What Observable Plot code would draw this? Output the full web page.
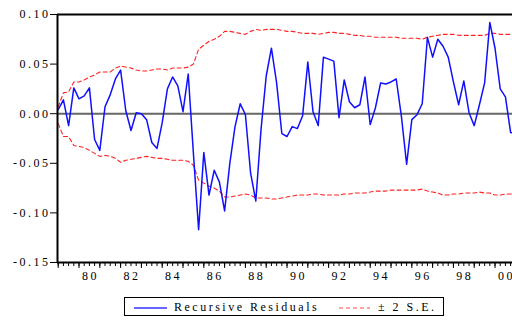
<!DOCTYPE html>
<html>
<head>
<meta charset="utf-8">
<script src="https://cdn.jsdelivr.net/npm/d3@7"></script>
<script src="https://cdn.jsdelivr.net/npm/@observablehq/plot@0.6"></script>
<style>
  html, body { margin: 0; padding: 0; background: #fff; }
  #wrap { position: relative; width: 512px; height: 320px; overflow: hidden; }
  #legend { position: absolute; left: 124px; top: 297px; width: 318px; height: 17px;
    border: 1px solid #000; font-family: "Liberation Serif", "Times New Roman", "DejaVu Serif", serif; font-size: 12px; letter-spacing: 2.5px; color: #000; }
  #legend .s { position: absolute; top: 0; }
  #legend .t { position: absolute; top: 1px; line-height: 16px; white-space: nowrap; }
  svg text { font-family: "Liberation Serif", "Times New Roman", "DejaVu Serif", serif !important; }
</style>
</head>
<body>
<div id="wrap">
  <div id="chart"></div>
  <div id="legend">
    <svg class="s" style="left:9px" width="34" height="17"><line x1="0" x2="33" y1="10" y2="10" stroke="#3333ff" stroke-width="1.5"/></svg>
    <span class="t" style="left:49px">Recursive Residuals</span>
    <svg class="s" style="left:214px" width="32" height="17"><line x1="0" x2="31" y1="10" y2="10" stroke="#ff4444" stroke-width="1.2" stroke-dasharray="4,3"/></svg>
    <span class="t" style="left:253px">± 2 S.E.</span>
  </div>
</div>
<script>
const startYear = 1979; // first quarterly observation: 1979Q1

const resid = [
  0.004, 0.014, -0.012, 0.026, 0.015, 0.018, 0.026, -0.026, -0.037, 0.007,
  0.019, 0.035, 0.044, 0.003, -0.017, 0.001, 0.000, -0.006, -0.029, -0.035,
  -0.009, 0.025, 0.037, 0.028, 0.002, 0.040, -0.040, -0.117, -0.039, -0.082,
  -0.057, -0.069, -0.098, -0.050, -0.013, 0.010, -0.001, -0.060, -0.088, -0.016,
  0.038, 0.066, 0.031, -0.020, -0.023, -0.013, -0.015, -0.002, 0.052, 0.002,
  -0.012, 0.057, 0.055, 0.053, -0.004, 0.034, 0.012, 0.006, 0.009, 0.037,
  -0.011, 0.006, 0.031, 0.030, 0.032, 0.035, -0.003, -0.051, -0.006, -0.001,
  0.010, 0.077, 0.057, 0.075, 0.068, 0.057, 0.032, 0.009, 0.033, 0.001,
  -0.012, 0.009, 0.031, 0.092, 0.066, 0.025, 0.017, -0.019, -0.020
];

const upper = [
  0.007, 0.021, 0.022, 0.032, 0.032, 0.034, 0.037, 0.039, 0.042, 0.042,
  0.042, 0.046, 0.048, 0.047, 0.046, 0.044, 0.043, 0.043, 0.044, 0.045,
  0.045, 0.044, 0.046, 0.046, 0.046, 0.047, 0.050, 0.065, 0.069, 0.073,
  0.075, 0.078, 0.083, 0.083, 0.082, 0.081, 0.080, 0.083, 0.085, 0.084,
  0.085, 0.085, 0.085, 0.084, 0.083, 0.083, 0.082, 0.081, 0.081, 0.081,
  0.080, 0.081, 0.082, 0.082, 0.081, 0.081, 0.080, 0.079, 0.079, 0.078,
  0.078, 0.077, 0.077, 0.077, 0.077, 0.077, 0.076, 0.076, 0.076, 0.076,
  0.075, 0.077, 0.078, 0.079, 0.080, 0.080, 0.080, 0.079, 0.079, 0.079,
  0.079, 0.079, 0.079, 0.081, 0.081, 0.080, 0.080, 0.080, 0.080
];

const lower = [
  -0.010, -0.023, -0.023, -0.032, -0.033, -0.034, -0.037, -0.040, -0.043, -0.042,
  -0.043, -0.045, -0.049, -0.047, -0.046, -0.045, -0.044, -0.043, -0.044, -0.045,
  -0.045, -0.046, -0.047, -0.047, -0.047, -0.048, -0.052, -0.067, -0.070, -0.073,
  -0.075, -0.078, -0.084, -0.084, -0.083, -0.082, -0.081, -0.082, -0.085, -0.085,
  -0.085, -0.086, -0.086, -0.085, -0.084, -0.083, -0.082, -0.082, -0.082, -0.081,
  -0.081, -0.082, -0.082, -0.082, -0.082, -0.081, -0.081, -0.080, -0.080, -0.080,
  -0.079, -0.078, -0.078, -0.078, -0.077, -0.077, -0.077, -0.077, -0.077, -0.077,
  -0.076, -0.078, -0.079, -0.080, -0.082, -0.082, -0.081, -0.081, -0.080, -0.080,
  -0.080, -0.079, -0.080, -0.080, -0.082, -0.082, -0.081, -0.081, -0.081
];

const yTicks = [0.10, 0.05, 0.00, -0.05, -0.10, -0.15];
const yearLabels = ["80", "82", "84", "86", "88", "90", "92", "94", "96", "98", "00"];
const labelYears = [1980, 1982, 1984, 1986, 1988, 1990, 1992, 1994, 1996, 1998, 2000];

const t = i => startYear + i / 4;
const xDomain = [1978.966, 2000.84];
const quarterTicks = d3.range(Math.ceil((xDomain[1] - 1978.75) * 4)).map(i => 1978.75 + i / 4).filter(v => v >= xDomain[0] && v <= xDomain[1]);
const yearTicks = quarterTicks.filter(v => Number.isInteger(v));

const rows = resid.map((v, i) => ({t: t(i), resid: v, upper: upper[i], lower: lower[i]}));

const serif = "'Liberation Serif', 'Times New Roman', 'DejaVu Serif', serif";

const chart = Plot.plot({
  width: 512,
  height: 288,
  marginLeft: 57,
  marginRight: 0,
  marginTop: 14,
  marginBottom: 26,
  style: {fontFamily: serif, fontSize: "12px", letterSpacing: "2.5px", background: "#fff", overflow: "hidden"},
  x: {domain: xDomain, axis: null},
  y: {domain: [-0.15, 0.10], axis: null},
  marks: [
    Plot.ruleY([0], {stroke: "#666", strokeWidth: 2}),
    Plot.line(rows, {x: "t", y: "upper", stroke: "#ff2222", strokeWidth: 1.1, strokeDasharray: "4,3"}),
    Plot.line(rows, {x: "t", y: "lower", stroke: "#ff2222", strokeWidth: 1.1, strokeDasharray: "4,3"}),
    Plot.line(rows, {x: "t", y: "resid", stroke: "#1010ff", strokeWidth: 1.5, clip: true}),
    Plot.ruleY([0.10], {stroke: "#000", strokeWidth: 2}),
    Plot.ruleY([-0.15], {stroke: "#000", strokeWidth: 2}),
    Plot.ruleX([xDomain[0]], {stroke: "#000", strokeWidth: 2}),
    Plot.axisY(yTicks, {tickSize: 7, tickPadding: 0, tickFormat: d => d.toFixed(2), fontSize: 12, fontFamily: serif, stroke: "#000", label: null}),
    Plot.axisX(quarterTicks, {tickSize: 4, text: null, stroke: "#000", label: null}),
    Plot.axisX(yearTicks, {tickSize: 6, text: null, stroke: "#000", label: null}),
    Plot.axisX(labelYears.map(y => y + 0.5), {tickSize: 0, tickPadding: 9, tickFormat: (d, i) => yearLabels[i], fontSize: 12, fontFamily: serif, dx: 1, label: null})
  ]
});
document.getElementById("chart").appendChild(chart);
</script>
</body>
</html>
